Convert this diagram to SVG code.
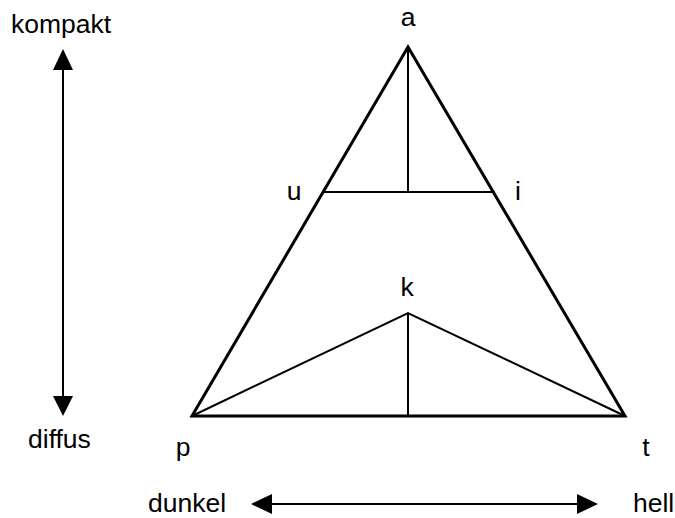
<svg xmlns="http://www.w3.org/2000/svg" width="675" height="518" viewBox="0 0 675 518">
<style>
text{font-family:"Liberation Sans",Arial,sans-serif;font-size:26.5px;fill:#000}
.c{text-anchor:middle}
.outer{fill:none;stroke:#000;stroke-width:3;stroke-linejoin:miter}
.inner{fill:none;stroke:#000;stroke-width:2}
.ax{stroke:#000;stroke-width:2;fill:none}
.head{fill:#000}
</style>
<rect width="675" height="518" fill="#fff"/>
<g id="connectors">
<polygon class="outer" points="408,47 192,416 625,416"/>
<line class="inner" x1="323" y1="192" x2="493" y2="192"/>
<line class="inner" x1="408" y1="47" x2="408" y2="192"/>
<polyline class="inner" points="192,416 408,313 625,416"/>
<line class="inner" x1="408" y1="313" x2="408" y2="416"/>
</g>
<g id="axis-vertical">
<line class="ax" x1="63" y1="68" x2="63" y2="398"/>
<polygon class="head" points="63,49 53,70 73,70"/>
<polygon class="head" points="63,416 53,396 73,396"/>
</g>
<g id="axis-horizontal">
<line class="ax" x1="270" y1="504" x2="580" y2="504"/>
<polygon class="head" points="251,504 272,494 272,514"/>
<polygon class="head" points="598,504 577,494 577,514"/>
</g>
<g id="node-a"><text class="c" x="408" y="26">a</text></g>
<g id="node-u"><text class="c" x="294" y="200">u</text></g>
<g id="node-i"><text class="c" x="518" y="200">i</text></g>
<g id="node-k"><text class="c" x="407" y="296">k</text></g>
<g id="node-p"><text class="c" x="183" y="456">p</text></g>
<g id="node-t"><text class="c" x="646" y="456">t</text></g>
<g id="label-kompakt"><text x="11" y="33">kompakt</text></g>
<g id="label-diffus"><text x="28" y="448">diffus</text></g>
<g id="label-dunkel"><text x="148" y="512">dunkel</text></g>
<g id="label-hell"><text x="633" y="512">hell</text></g>
</svg>
